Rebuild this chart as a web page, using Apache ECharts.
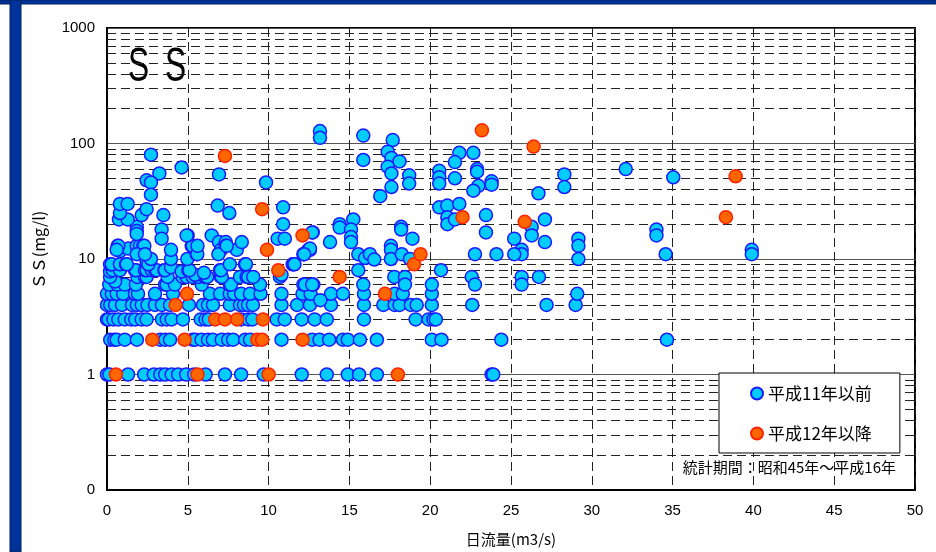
<!DOCTYPE html>
<html><head><meta charset="utf-8">
<script src="https://cdn.jsdelivr.net/npm/echarts@6/dist/echarts.min.js"></script>
<style>html,body{margin:0;padding:0;background:#fff}#c{width:936px;height:552px}</style>
</head><body><div id="c"></div>
<script>
const seriesNames = ['平成11年以前', '平成12年以降'];
const chartTitle = 'S';
const xAxisName = '日流量(m3/s)';
const yAxisName = 'ＳＳ(mg/l)';
const periodNote = '統計期間：昭和45年～平成16年';

// [日流量 m3/s, SS mg/l]
const pre11 = [
  [0,1],[0.15,1],[1.3,1],[2.3,1],[2.9,1],[3.3,1],[3.6,1],[4.0,1],[4.4,1],[4.9,1],[5.4,1],[6.1,1],[7.3,1],[8.3,1],[9.7,1],[12.05,1],[13.6,1],[14.9,1],[15.6,1],[16.7,1],[23.8,1],[23.9,1],
  [0.2,2],[0.45,2],[0.6,2],[1.1,2],[1.85,2],[3.3,2],[3.6,2],[3.9,2],[5.3,2],[5.45,2],[5.85,2],[6.25,2],[6.55,2],[7.1,2],[7.5,2],[7.8,2],[8.55,2],[8.85,2],[10.8,2],[12.7,2],[13.15,2],[13.75,2],[14.6,2],[14.9,2],[15.65,2],[16.7,2],[20.1,2],[20.7,2],[24.4,2],[34.65,2],
  [0,3],[0.1,3],[0.4,3],[0.7,3],[1.1,3],[1.5,3],[1.75,3],[2.15,3],[2.45,3],[3.4,3],[3.7,3],[4.0,3],[4.7,3],[5.8,3],[6.1,3],[6.3,3],[8.3,3],[8.75,3],[9.0,3],[10.5,3],[11.0,3],[12.05,3],[12.85,3],[13.6,3],[15.9,3],[19.1,3],[19.9,3],[20.2,3],[20.35,3],
  [0,4],[0.2,4],[0.5,4],[0.93,4],[1.55,4],[1.85,4],[2.15,4],[2.5,4],[2.97,4],[3.4,4],[3.9,4],[5.07,4],[5.94,4],[6.25,4],[6.56,4],[7.6,4],[8.23,4],[8.48,4],[8.73,4],[9.03,4],[10.8,4],[11.76,4],[12.56,4],[13.86,4],[15.9,4],[17.1,4],[17.8,4],[18.1,4],[18.8,4],[19.16,4],[20.1,4],[22.6,4],[27.2,4],[29.0,4],
  [0,5],[0.3,5],[0.6,5],[1.0,5],[1.73,5],[1.92,5],[2.97,5],[4.08,5],[6.37,5],[7.0,5],[7.6,5],[7.86,5],[8.3,5],[8.85,5],[9.5,5],[10.8,5],[12.1,5],[12.6,5],[13.86,5],[14.6,5],[15.9,5],[17.8,5],[18.3,5],[20.1,5],[29.1,5],
  [0.14,6],[0.64,6],[1.1,6],[1.79,6],[3.59,6],[3.69,6],[4.2,6],[5.86,6],[7.6,6],[7.67,6],[9.47,6],[12.15,6],[12.25,6],[12.77,6],[0.5,6.4],
  [0.19,7],[0.19,7.8],[1.88,7],[2.35,7],[2.45,7],[3.75,7],[4.68,7],[4.93,7],[5.3,7],[5.65,7],[6.06,7],[6.17,7],[6.2,7],[7.05,7],[7.1,7],[8.23,7],[8.64,7],[8.74,7],[9.05,7],[10.7,7],[10.8,7.3],[5.45,7.3],[6.0,7.6],
  [0.35,8],[0.8,8],[1.73,8],[1.79,8],[2.35,8],[2.45,8],[2.77,8],[2.97,8],[3.08,8],[3.55,8],[3.59,8],[3.96,8.5],[4.62,7.8],[5.03,8],[5.1,8],[6.99,8],[7.05,8],
  [0.19,9],[0.29,9],[0.8,9],[1.18,9],[1.22,9],[2.45,9.5],[2.56,9],[7.6,9],[8.54,9],[8.6,9],[11.49,9],[11.53,9],[11.6,9],
  [3.96,10],[4.97,10],[2.72,10],
  [0.8,11.7],[1.32,12.3],[0.66,13],[0.7,13],[0.6,12],[1.84,13],[2.04,13],[2.25,13],[2.31,13],[1.84,11],[2.35,11],[3.96,12],[5.24,13],[5.55,11],[5.3,13],[5.59,11],
  [4.99,16],[6.48,16],[6.93,14],[7.35,14],[7.05,12],[7.35,13],[8.03,12],[8.34,14],[5.6,13],[6.89,11],[7.41,13],
  [10.56,15],[11.0,15],[12.15,11],[12.19,11],[12.46,12],[12.56,12],[12.73,17],
  [1.84,19],[1.84,17.5],[1.84,16.5],[3.38,18],[3.38,15],[0.74,22],[1.28,22],[0.8,25],[0.8,30],[1.28,30],[2.15,24],[2.45,27],[3.49,24],[4.93,16],
  [6.85,29],[7.57,25],[10.9,28],[10.9,20],
  [2.72,80],[4.62,62],[3.24,55],[2.45,48],[2.72,46],[2.72,36],[6.93,54],[9.84,46],
  [13.18,128],[13.18,112],[15.86,117],[17.68,107],[15.86,72],
  [17.37,85],[17.6,75],[18.1,70],[17.37,63],[17.6,55],[18.7,53],[18.7,45],[17.6,42],[16.91,35],
  [14.4,20],[14.4,18.7],[15.24,22],[15.1,18],[15.1,15.5],[15.1,14],
  [12.7,17],[13.8,14],[12.56,12.3],[12.2,11],
  [15.55,11],[15.97,10.2],[16.27,11],[16.54,9.9],[15.55,8],
  [17.57,13],[17.57,12],[17.57,10],[18.24,11],[18.75,10],[18.2,19],[18.2,18],[18.9,15],
  [17.78,7],[18.44,7],[18.44,6],[15.86,6],[13.2,4.4],[12.7,6],
  [20.67,8],[20.1,6],
  [21.8,83],[22.67,83],[21.53,69],
  [20.56,58],[20.56,51],[20.56,45],[21.53,50],[22.9,60],[22.9,57],[22.98,43],[22.67,39],[23.8,47],[23.8,44],[26.7,37],[28.3,54],[28.3,42],
  [20.56,28],[21.06,29],[21.8,30],[21.06,23],[21.06,20],[21.53,22],[23.45,24],[23.45,17],[25.2,15],[25.66,12],[25.66,11],[26.28,19],[26.28,16],[27.1,22],[27.1,14],[29.17,15],[29.17,13],[29.17,10],
  [22.77,11],[24.1,11],[25.2,11],
  [22.57,7],[22.77,6],[25.66,7],[25.66,6],[26.73,7],
  [32.1,60],[35.04,51],[34.0,18],[34.0,16],[34.57,11],[39.9,12],[39.9,11]
];
const post12 = [
  [0.55,1],[5.6,1],[10.0,1],[18.0,1],
  [2.8,2],[4.8,2],[9.3,2],[9.6,2],[12.1,2],
  [6.7,3],[7.3,3],[8.05,3],[9.65,3],
  [4.25,4],
  [4.95,5],[17.2,5],
  [14.4,7],
  [10.6,8],
  [19.0,9],
  [19.4,11],[9.9,12],
  [12.1,16],
  [22.0,23],[25.85,21],[38.3,23],
  [9.6,27],
  [38.9,52],
  [7.3,78],[26.4,94],[23.2,130]
];
const xMin = 0, xMax = 50, xStep = 5;
const yMin = 0.1, yMax = 1000;
const minorLevels = [0.2,0.3,0.4,0.5,0.6,0.7,0.8,0.9,2,3,4,5,6,7,8,9,20,30,40,50,60,70,80,90,200,300,400,500,600,700,800,900];

const chart = echarts.init(document.getElementById('c'), null, {renderer: 'canvas'});
const font = '"Liberation Sans", Arial, sans-serif';
const cjk = '"Noto Sans CJK JP", sans-serif';
chart.setOption({
  animation: false,
  backgroundColor: '#fff',
  grid: {left: 107, top: 28, width: 808, height: 462, show: true, borderColor: '#000', borderWidth: 2, backgroundColor: 'transparent'},
  xAxis: {
    type: 'value', min: xMin, max: xMax, interval: xStep,
    name: xAxisName, nameLocation: 'middle', nameGap: 42,
    nameTextStyle: {fontFamily: cjk, fontSize: 15, color: '#000'},
    axisLine: {show: true, onZero: false, lineStyle: {color: '#000', width: 2}},
    axisTick: {show: false},
    axisLabel: {fontFamily: font, fontSize: 15, color: '#000', margin: 13},
    splitLine: {show: true, lineStyle: {color: '#222', type: [9, 5], width: 1}}
  },
  yAxis: {
    type: 'log', logBase: 10, min: yMin, max: yMax, splitNumber: 4,
    name: yAxisName, nameLocation: 'middle', nameGap: 60,
    nameTextStyle: {fontFamily: cjk, fontSize: 16, color: '#000', padding: [0, 0, 0, 18]},
    axisLine: {show: true, lineStyle: {color: '#000', width: 2}},
    axisTick: {show: false},
    minorTick: {show: false}, minorSplitLine: {show: false},
    axisLabel: {fontFamily: font, fontSize: 15, color: '#000', margin: 12,
      formatter: v => (v < 0.5 ? '0' : String(Math.round(v)))},
    splitLine: {show: true, lineStyle: {color: '#555', type: 'solid', width: 1}}
  },
  legend: {
    data: seriesNames, orient: 'vertical', left: 719, top: 373, z: 50, zlevel: 0,
    backgroundColor: '#fff', borderColor: '#000', borderWidth: 1,
    padding: [12, 28, 11, 31], itemGap: 23, itemWidth: 12, itemHeight: 12,
    icon: 'circle',
    textStyle: {fontFamily: cjk, fontSize: 17, color: '#000'}
  },
  graphic: [
    {type: 'rect', silent: true, z: 100, shape: {x: 0, y: 0, width: 936, height: 4}, style: {fill: '#003399', stroke: '#00215e', lineWidth: 1}},
    {type: 'rect', silent: true, z: 100, shape: {x: 10, y: 0, width: 11, height: 552}, style: {fill: '#003399', stroke: '#00215e', lineWidth: 1}},
    {type: 'text', silent: true, x: 128, y: 44, scaleX: 0.66, style: {text: chartTitle, font: '48px "Liberation Sans"', fill: '#000'}},
    {type: 'text', silent: true, x: 165, y: 44, scaleX: 0.66, style: {text: chartTitle, font: '48px "Liberation Sans"', fill: '#000'}},
    {type: 'text', silent: true, z: 60, x: 896, y: 467, style: {text: periodNote, font: '15px "Noto Sans CJK JP"', fill: '#000', textAlign: 'right', textVerticalAlign: 'middle'}}
  ],
  series: [
    {
      type: 'scatter', name: 'grid', data: [], z: 1, silent: true,
      markLine: {silent: true, z: 1, symbol: ['none', 'none'], label: {show: false},
        lineStyle: {color: '#222', type: [9, 5], width: 1},
        data: minorLevels.map(v => ({yAxis: v}))}
    },
    {
      type: 'scatter', name: seriesNames[0], data: pre11, symbol: 'circle', symbolSize: 13, z: 3,
      itemStyle: {color: '#00ccff', borderColor: '#1a1aff', borderWidth: 1.5, opacity: 1}
    },
    {
      type: 'scatter', name: seriesNames[1], data: post12, symbol: 'circle', symbolSize: 13, z: 4,
      itemStyle: {color: '#ff6600', borderColor: '#ff2200', borderWidth: 1.5, opacity: 1}
    }
  ]
});
</script></body></html>
